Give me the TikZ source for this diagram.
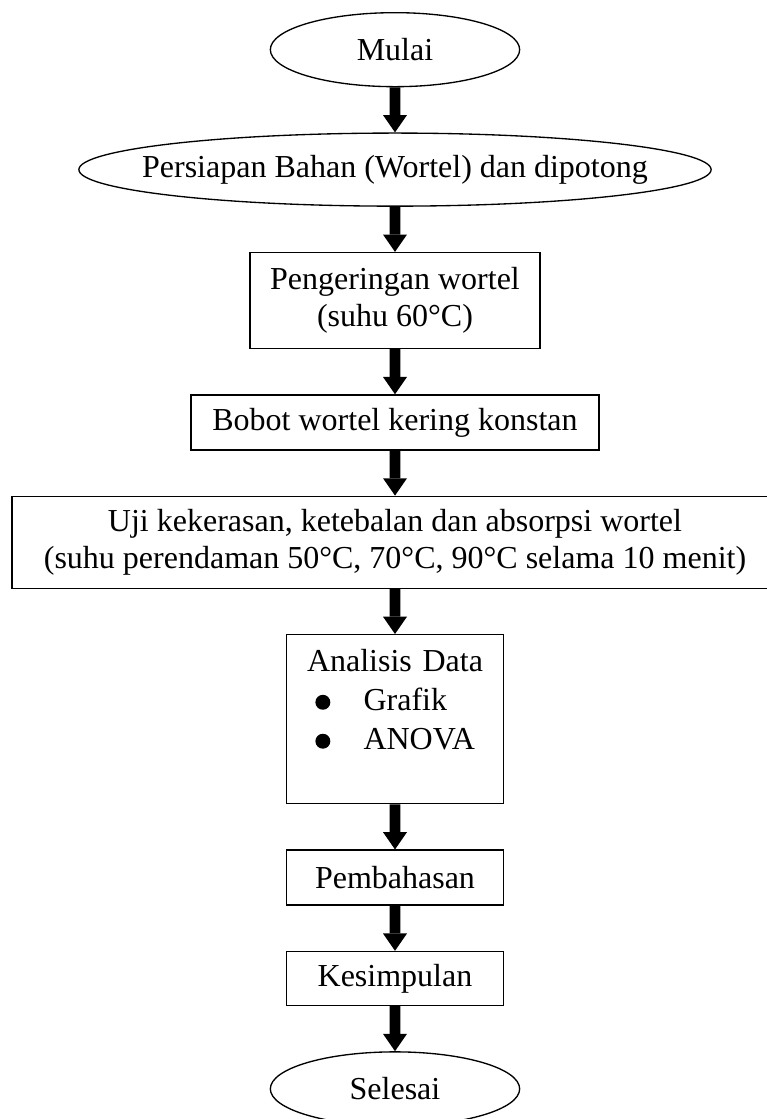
\documentclass[tikz,border=0pt]{standalone}
\usepackage{fontspec}
\setmainfont{Liberation Serif}
\usetikzlibrary{arrows.meta,shapes.geometric}
\def\Mulai{Mulai}
\def\Persiapan{Persiapan Bahan (Wortel) dan dipotong}
\def\Pengeringan{Pengeringan wortel\\(suhu 60°C)}
\def\Bobot{Bobot wortel kering konstan}
\def\Uji{Uji kekerasan, ketebalan dan absorpsi wortel\\(suhu perendaman 50°C, 70°C, 90°C selama 10 menit)}
\def\Pembahasan{Pembahasan}
\def\Kesimpulan{Kesimpulan}
\def\Selesai{Selesai}
\newcommand{\butir}[1]{\hspace*{28.9pt}#1}
\newcommand{\titik}[2]{\fill ([shift={(13.9pt,#2)}]#1.north west) circle (2.8pt)}
\newcommand{\flow}[2]{\draw[-{Triangle[width=9pt,length=6.5pt,line width=0pt]}, line width=4.1pt] (#1) -- (#2)}

\begin{document}
\begin{tikzpicture}[x=0.375pt, y=0.375pt,
                    level distance=16.9pt,
                    growth parent anchor=south,
                    every node/.style={
                        anchor=north, draw, line width=0.5pt,
                        inner sep=0pt, align=center,
                        font=\fontsize{12}{13.8}\selectfont
                    },
                    edge from parent/.style={draw=none},
                    terminal/.style={ellipse, minimum width=93.5pt, minimum height=27.75pt},
                    process/.style={rectangle, minimum width=81.4pt, minimum height=20.6pt}]
    \useasboundingbox (0,0) rectangle (766,-1119);
    \node[terminal] (mulai) at (395,-12) {\Mulai}
        child { node[terminal, inner xsep=-11pt, minimum height=27.4pt] (siap) {\Persiapan}
            child { node[process, minimum width=108.75pt, minimum height=36pt] (kering) {\Pengeringan}
                child { node[process, minimum width=153pt] (bobot) {\Bobot}
                    child { node[process, minimum width=287.25pt, minimum height=34.5pt] (uji) {\Uji}
                        child { node[process, minimum height=63.4pt, text width=81.4pt, align=left,
                                     font=\fontsize{12}{14.6}\selectfont] (analisis)
                                {\makebox[81.4pt]{Analisis Data}\\ \butir{Grafik}\\ \butir{ANOVA}\\ \mbox{}}
                            child { node[process] (bahas) {\Pembahasan}
                                child { node[process, minimum height=20.25pt] (simpul) {\Kesimpulan}
                                    child { node[terminal] (selesai) {\Selesai} }
                                }
                            }
                        }
                    }
                }
            }
        };

    \titik{analisis}{-25.6pt};
    \titik{analisis}{-40.2pt};

    \flow{mulai}{siap};
    \flow{siap}{kering};
    \flow{kering}{bobot};
    \flow{bobot}{uji};
    \flow{uji}{analisis};
    \flow{analisis}{bahas};
    \flow{bahas}{simpul};
    \flow{simpul}{selesai};
\end{tikzpicture}
\end{document}
